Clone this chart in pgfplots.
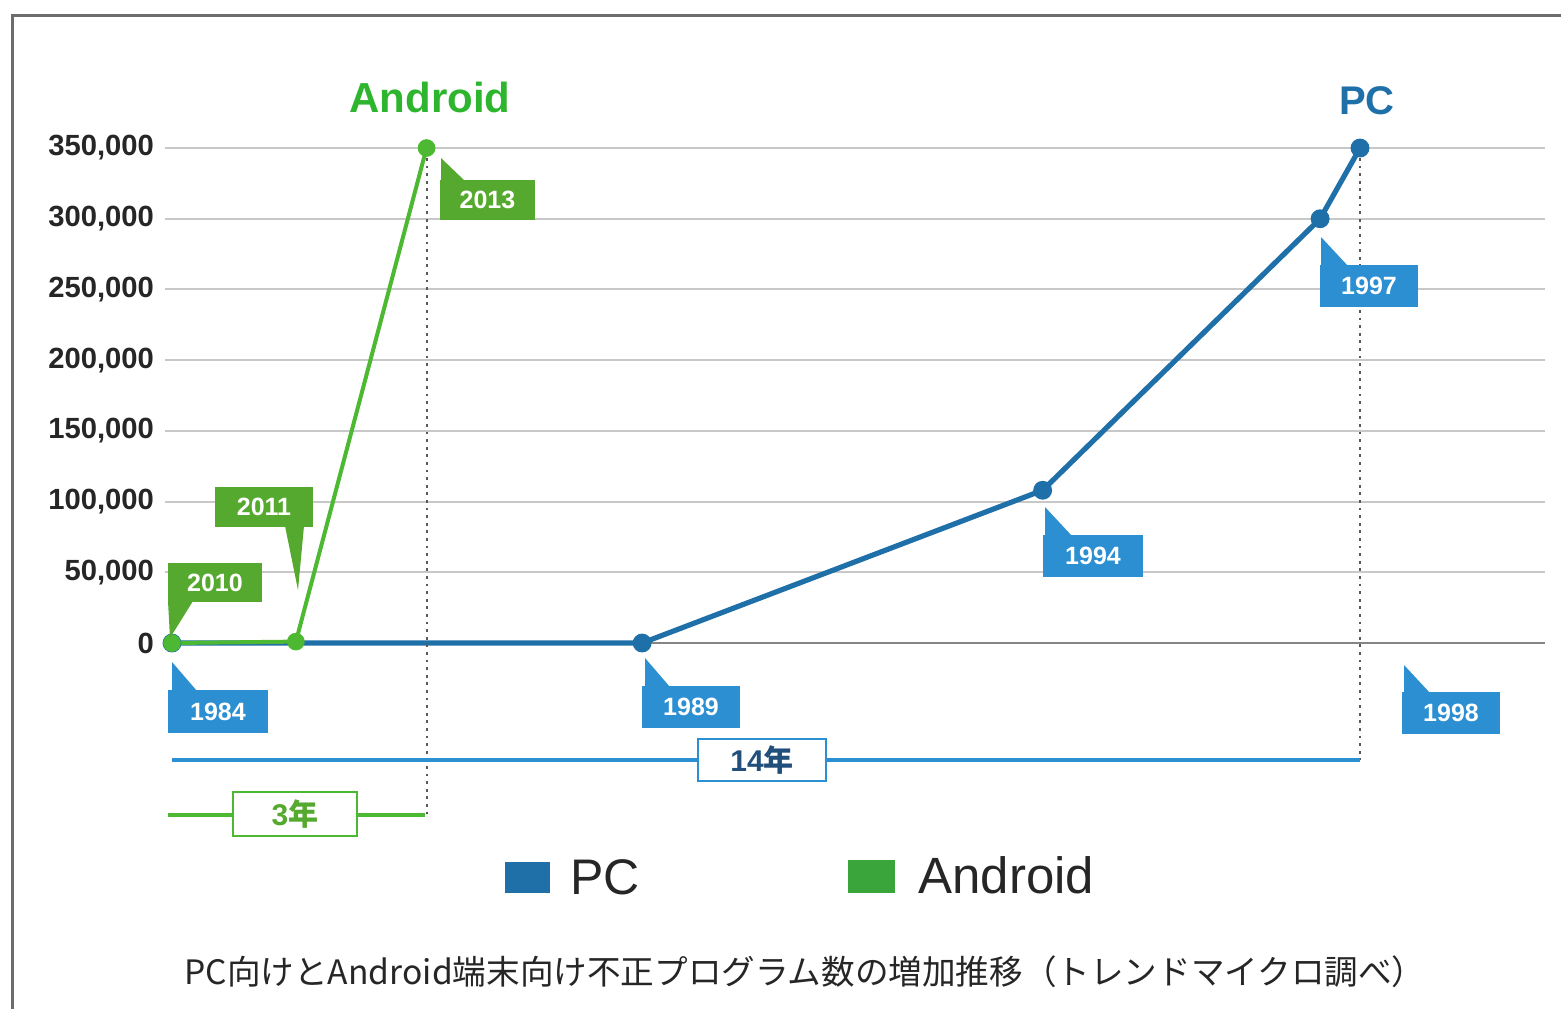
\documentclass[border=0pt]{standalone}
\usepackage{pgfplots}
\pgfplotsset{compat=1.18}
\usepackage{fontspec}
\setmainfont{Liberation Sans}
\newfontfamily\jp{Noto Sans CJK JP}
\definecolor{pcline}{HTML}{1F6FA8}
\definecolor{pcbox}{HTML}{2B8FD2}
\definecolor{pctext}{HTML}{1F4F7A}
\definecolor{anline}{HTML}{4DB832}
\definecolor{anbox}{HTML}{55A92E}
\definecolor{antitle}{HTML}{2EB52E}
\definecolor{anleg}{HTML}{3AA53A}
\definecolor{gridc}{HTML}{C8C8C8}
\definecolor{zeroc}{HTML}{858585}
\newcommand{\callout}[7]{%
  \fill[#1] (#2,#3) rectangle (#4,#5);
  \fill[#1] #7;
  \node[text=white, font=\fontsize{12.5}{12.5}\selectfont\bfseries, inner sep=0pt] at ({(#2+#4)/2},{(#3+#5)/2}) {#6};
}
\begin{document}
\begin{tikzpicture}
\begin{scope}[x=0.5pt,y=-0.5pt]
\path[use as bounding box] (0,0) rectangle (1561,1009);
\draw[gray!85!black, line width=1.5pt] (12,1009) -- (12,15) -- (1561,15);
\end{scope}
\begin{axis}[
  at={(82.5pt,-321.5pt)}, anchor=south west,
  scale only axis, width=690pt, height=247.5pt,
  xmin=-0.0825, xmax=16.18, ymin=0, ymax=350000,
  clip=false,
  axis line style={draw=none},
  tick style={draw=none},
  xtick=\empty,
  ytick={50000,100000,...,350000},
  extra y ticks={0},
  extra y tick style={major grid style={zeroc, line width=1.2pt}},
  ymajorgrids,
  grid style={gridc, line width=1pt},
  scaled y ticks=false,
  /pgf/number format/fixed,
  /pgf/number format/1000 sep={,},
  /pgf/number format/assume math mode=true,
  yticklabel style={font=\fontsize{14.6}{14.6}\selectfont\bfseries, text=black!85, xshift=-2pt},
]
\addplot[pcline, line width=2.6pt, mark=*, mark size=3.4pt, mark options={fill=pcline}]
  coordinates {(0,0) (5.54,0) (10.26,108000) (13.53,300000) (14,350000)};
\addplot[anline, line width=2pt, mark=*, mark size=3.4pt, mark options={fill=anline}]
  coordinates {(0,0) (1.46,1000) (3.0,350000)};
\end{axis}
\begin{scope}[x=0.5pt,y=-0.5pt]
% dotted guides
\draw[black!65, line width=1.2pt, dash pattern=on 1.4pt off 2.4pt] (427,158) -- (427,815);
\draw[black!65, line width=1.2pt, dash pattern=on 1.4pt off 2.4pt] (1360,158) -- (1360,760);
% spans
\draw[pcbox, line width=1.6pt] (172,760) -- (1360,760);
\node[fill=white, draw=pcbox, line width=1.2pt, minimum width=64pt, minimum height=21pt, inner sep=0pt, text=pctext, font=\fontsize{15}{15}\selectfont\bfseries] at (762,760) {14{\jp 年}};
\draw[anline, line width=1.6pt] (168,815) -- (425,815);
\node[fill=white, draw=anline, line width=1.2pt, minimum width=62pt, minimum height=22pt, inner sep=0pt, text=anbox, font=\fontsize{15}{15}\selectfont\bfseries] at (295,814) {3{\jp 年}};
% callouts
\callout{pcbox}{168}{690}{268}{733}{1984}{(172,691) -- (172,662) -- (197,691)}
\callout{pcbox}{642}{686}{740}{728}{1989}{(645,687) -- (645,658) -- (670,687)}
\callout{pcbox}{1043}{535}{1143}{577}{1994}{(1045,536) -- (1045,507) -- (1072,536)}
\callout{pcbox}{1320}{265}{1418}{307}{1997}{(1321,266) -- (1321,237) -- (1348,266)}
\callout{pcbox}{1402}{692}{1500}{734}{1998}{(1404,693) -- (1404,665) -- (1430,693)}
\callout{anbox}{440}{180}{535}{220}{2013}{(441,181) -- (441,158) -- (465,181)}
\callout{anbox}{215}{487}{313}{527}{2011}{(285,526) -- (298,590) -- (304,526)}
\callout{anbox}{168}{563}{262}{602}{2010}{(168,601) -- (170,638) -- (193,601)}
% titles
\node[text=antitle, font=\fontsize{21}{21}\selectfont\bfseries] at (430,97) {Android};
\node[text=pcline, font=\fontsize{20}{20}\selectfont\bfseries] at (1367,101) {PC};
% legend
\fill[pcline] (505,862) rectangle (550,893);
\node[anchor=west, font=\fontsize{25}{25}\selectfont, text=black!85, inner sep=0pt] at (570,877) {PC};
\fill[anleg] (848,860) rectangle (895,893);
\node[anchor=west, font=\fontsize{25.5}{25.5}\selectfont, text=black!85, inner sep=0pt] at (918,875) {Android};
% caption
\node[font=\jp\fontsize{16.8}{16.8}\selectfont, text=black!85] at (805,972) {PC向けとAndroid端末向け不正プログラム数の増加推移（トレンドマイクロ調べ）};
\end{scope}
\end{tikzpicture}
\end{document}
